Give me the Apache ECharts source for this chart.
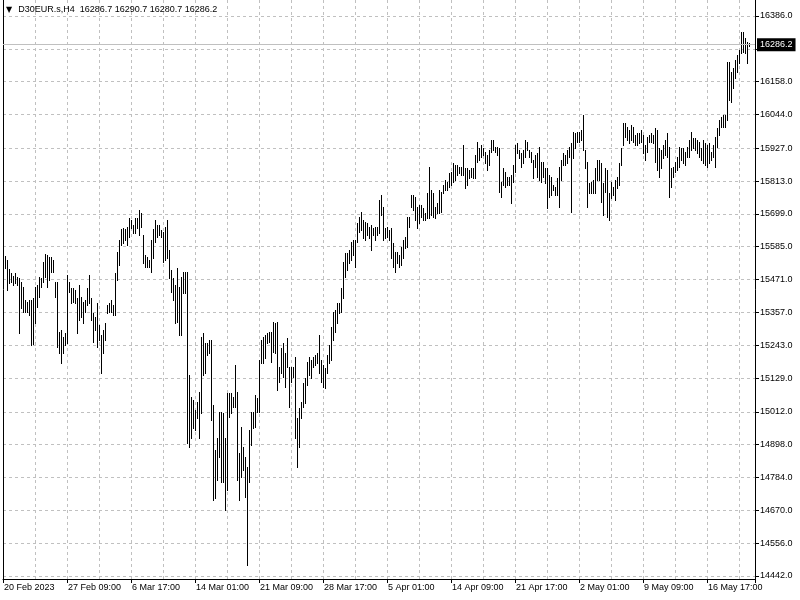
<!DOCTYPE html>
<html><head><meta charset="utf-8">
<script src="https://cdn.jsdelivr.net/npm/echarts@6/dist/echarts.min.js"></script>
<style>html,body{margin:0;padding:0;background:#fff}#c{width:800px;height:600px}</style>
</head><body><div id="c"></div>
<script>
const symbolName = 'D30EUR.s,H4';
const lastOHLC = [16286.7, 16290.7, 16280.7, 16286.2];
const tickLabels = ['20 Feb 2023','27 Feb 09:00','6 Mar 17:00','14 Mar 01:00','21 Mar 09:00','28 Mar 17:00','5 Apr 01:00','14 Apr 09:00','21 Apr 17:00','2 May 01:00','9 May 09:00','16 May 17:00'];
const yTicks = [16386.0,16272.0,16158.0,16044.0,15927.0,15813.0,15699.0,15585.0,15471.0,15357.0,15243.0,15129.0,15012.0,14898.0,14784.0,14670.0,14556.0,14442.0];
const highs = [
15539,15553,15539,15508,15494,15483,15494,15480,15476,15463,
15445,15400,15393,15400,15400,15407,15445,15452,15480,15476,
15532,15560,15556,15549,15549,15539,15463,15463,15289,15296,
15272,15286,15487,15463,15442,15442,15435,15407,15452,15411,
15393,15400,15442,15487,15407,15355,15341,15390,15313,15279,
15296,15320,15383,15390,15400,15383,15494,15567,15608,15647,
15650,15647,15654,15685,15678,15661,15685,15685,15713,15702,
15626,15556,15549,15539,15608,15647,15678,15661,15661,15643,
15636,15654,15678,15574,15504,15476,15452,15511,15445,15480,
15497,15497,15497,15140,15063,15053,15018,15046,15081,15272,
15286,15251,15251,15261,15261,15036,14879,14921,15011,15011,
15008,14921,15077,15077,15077,15063,15174,15081,14869,14959,
14890,14855,14820,14949,15011,15011,15070,15060,15192,15261,
15272,15279,15286,15289,15289,15324,15320,15324,15167,15233,
15251,15216,15268,15167,15167,15167,15202,14991,15025,15046,
15112,15129,15185,15202,15192,15202,15209,15216,15279,15192,
15174,15164,15209,15244,15306,15358,15365,15390,15390,15442,
15532,15563,15563,15574,15601,15608,15608,15667,15688,15706,
15678,15671,15667,15654,15661,15650,15654,15654,15747,15765,
15723,15650,15654,15643,15650,15598,15567,15567,15556,15584,
15608,15619,15688,15688,15765,15765,15758,15723,15730,15730,
15720,15702,15772,15862,15782,15772,15723,15737,15782,15775,
15799,15817,15810,15841,15844,15876,15869,15869,15862,15862,
15938,15858,15858,15851,15858,15858,15904,15949,15928,15938,
15928,15914,15904,15921,15956,15956,15931,15931,15928,15810,
15858,15844,15827,15827,15834,15869,15938,15945,15921,15910,
15921,15956,15949,15921,15914,15886,15904,15910,15931,15879,
15879,15858,15858,15834,15827,15799,15792,15824,15862,15886,
15910,15904,15921,15931,15945,15983,15980,15983,15983,15990,
16042,15921,15879,15806,15810,15817,15858,15886,15886,15876,
15806,15858,15851,15772,15810,15792,15817,15827,15876,15928,
16015,16015,16001,15990,16008,16001,15973,15980,15980,15990,
15973,15938,15966,15973,15980,15973,15997,15990,15928,15921,
15938,15956,15980,15931,15858,15862,15879,15896,15931,15928,
15928,15914,15931,15956,15983,15962,15962,15956,15949,15928,
15956,15945,15938,15945,15914,15938,15966,15997,16025,16035,
16042,16042,16226,16226,16192,16205,16233,16251,16268,16330,
16330,16310,16296,16290.7
];
const lows = [
15487,15511,15435,15459,15463,15452,15459,15452,15286,15372,
15358,15358,15358,15348,15244,15247,15320,15376,15411,15445,
15463,15480,15445,15470,15497,15497,15411,15237,15216,15181,
15216,15244,15251,15428,15390,15393,15390,15286,15331,15341,
15320,15358,15383,15390,15331,15254,15296,15237,15261,15147,
15216,15261,15355,15358,15358,15348,15348,15470,15522,15591,
15598,15608,15591,15619,15650,15633,15633,15650,15626,15654,
15529,15515,15515,15515,15497,15546,15601,15619,15626,15619,
15532,15539,15546,15476,15428,15400,15320,15324,15279,15279,
15424,15424,14904,14890,14921,14956,14949,14991,14921,15008,
15140,15147,15209,15216,14984,14706,14713,14775,14855,14768,
14768,14671,14741,14994,15008,15029,15029,14775,14706,14786,
14810,14716,14480,14768,14897,14956,14959,15011,15011,15181,
15181,15199,15251,15254,15185,15220,15216,15088,15115,15147,
15133,15098,15167,15029,15115,15133,14921,14820,14890,14991,
15029,15043,15105,15140,15129,15167,15174,15181,15147,15115,
15098,15095,15147,15181,15192,15261,15289,15320,15355,15358,
15407,15480,15504,15529,15539,15556,15515,15601,15636,15643,
15615,15608,15626,15615,15574,15626,15608,15626,15633,15695,
15608,15615,15619,15608,15546,15515,15497,15529,15515,15522,
15546,15581,15584,15654,15723,15713,15678,15650,15667,15688,
15678,15678,15685,15685,15695,15688,15685,15702,15702,15706,
15772,15782,15782,15792,15799,15810,15817,15834,15841,15834,
15834,15789,15799,15824,15827,15824,15824,15879,15886,15896,
15904,15876,15851,15869,15914,15921,15914,15904,15775,15758,
15799,15792,15799,15799,15737,15810,15844,15910,15893,15862,
15876,15896,15921,15896,15879,15824,15862,15827,15817,15810,
15827,15806,15720,15758,15765,15782,15765,15765,15723,15817,
15869,15869,15876,15896,15706,15893,15928,15949,15949,15956,
15921,15858,15723,15772,15772,15772,15772,15817,15817,15740,
15695,15775,15688,15678,15754,15765,15747,15789,15799,15869,
15938,15966,15956,15945,15956,15949,15938,15938,15945,15949,
15910,15886,15914,15949,15949,15945,15879,15851,15827,15858,
15893,15904,15896,15758,15792,15827,15844,15851,15862,15886,
15876,15869,15896,15896,15921,15928,15921,15910,15896,15886,
15876,15869,15862,15876,15886,15896,15862,15931,15973,16001,
16001,16001,16025,16094,16087,16136,16171,16192,16223,16258,
16261,16258,16223,16280.7
];

const barsPerLabel = 32;
const barsPerGrid = 16;
const slotCount = 376;
const yMin = 14431.59, yMax = 16441.54;
const FONT = '"Liberation Sans", Arial, sans-serif';
const categories = Array.from({length: slotCount}, (_, i) => String(i));
const seriesData = highs.map((h, i) => [i, h, lows[i]]);
const lastClose = lastOHLC[3];

const chart = echarts.init(document.getElementById('c'), null, {renderer: 'canvas'});
chart.setOption({
  animation: false,
  backgroundColor: '#ffffff',
  title: {
    text: '{t|\u25BC}' + symbolName + '  ' + lastOHLC.map(v => v.toFixed(1)).join(' '),
    left: 6, top: 5, padding: 0,
    textStyle: {
      fontFamily: FONT, fontSize: 9, fontWeight: 'normal', color: '#000',
      rich: { t: { fontFamily: '"DejaVu Sans", sans-serif', fontSize: 8, color: '#000', padding: [0, 6, 0, 0] } }
    }
  },
  grid: { left: 3, right: 45, top: 0, bottom: 21, containLabel: false },
  xAxis: {
    type: 'category', data: categories, boundaryGap: true,
    axisLine: { show: true, onZero: false, lineStyle: { color: '#000', width: 1 } },
    axisTick: { show: true, interval: (i) => i % barsPerLabel === 0, length: 4, lineStyle: { color: '#000' } },
    axisLabel: {
      interval: (i) => i % barsPerLabel === 0 && (i / barsPerLabel) < tickLabels.length,
      formatter: (v, i) => tickLabels[Math.round(i / barsPerLabel)] || '',
      align: 'left', margin: 4, fontFamily: FONT, fontSize: 9, color: '#000'
    },
    splitLine: { show: true, interval: (i) => i % barsPerGrid === 0 && i > 0,
      lineStyle: { color: '#c0c0c0', type: [3, 3], width: 1 } }
  },
  yAxis: [{
    type: 'value', position: 'right', min: yMin, max: yMax,
    axisLine: { show: true, onZero: false, lineStyle: { color: '#000' } },
    axisTick: { show: true, customValues: yTicks, length: 4, lineStyle: { color: '#000' } },
    axisLabel: { customValues: yTicks, formatter: v => v.toFixed(1), margin: 5,
      fontFamily: FONT, fontSize: 9, color: '#000' },
    splitLine: { show: true, lineStyle: { color: '#c0c0c0', type: [3, 3], width: 1 } }
  }, {
    type: 'value', position: 'left',
    axisLine: { show: true, onZero: false, lineStyle: { color: '#000' } },
    axisTick: { show: false }, axisLabel: { show: false }, splitLine: { show: false }
  }],
  series: [{
    type: 'custom',
    silent: true,
    data: seriesData,
    encode: { x: 0, y: [1, 2] },
    renderItem: (params, api) => {
      const i = api.value(0);
      const top = api.coord([i, api.value(1)]);
      const bot = api.coord([i, api.value(2)]);
      const x = Math.round(top[0] - 1) + 0.5;
      return {
        type: 'line',
        shape: { x1: x, y1: Math.round(top[1]), x2: x, y2: Math.round(bot[1]) + 1 },
        style: { stroke: '#000', lineWidth: 1 }
      };
    },
    markLine: {
      silent: true, symbol: 'none', animation: false,
      data: [{ yAxis: lastClose }],
      lineStyle: { color: '#c0c0c0', type: 'solid', width: 1 },
      label: {
        show: true, position: 'end', distance: 2,
        formatter: lastClose.toFixed(1),
        backgroundColor: '#000', color: '#fff',
        fontFamily: FONT, fontSize: 9, padding: [2, 3, 2, 3]
      }
    }
  }]
});
</script></body></html>
